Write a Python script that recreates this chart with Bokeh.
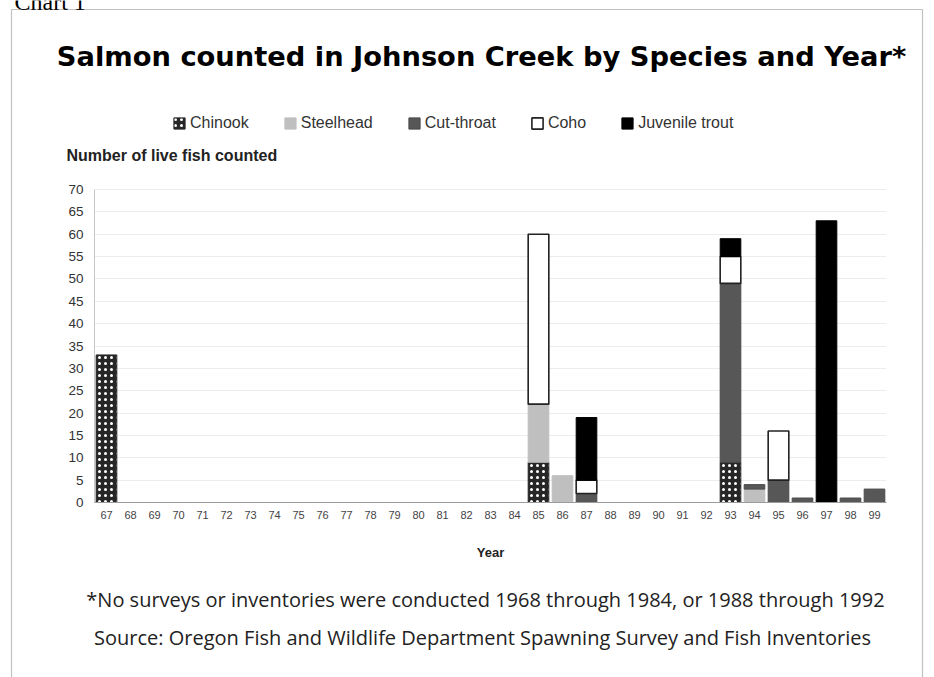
from bokeh.plotting import figure
from bokeh.models import (ColumnDataSource, Range1d, Legend, LegendItem, Label, BoxAnnotation,
                          FixedTicker, CDSView, IndexFilter)
from bokeh.transform import stack
from bokeh.embed import file_html
from bokeh.resources import INLINE

# ---------------- data ----------------
years = [67, 68, 69, 70, 71, 72, 73, 74, 75, 76, 77,
         78, 79, 80, 81, 82, 83, 84, 85, 86, 87, 88,
         89, 90, 91, 92, 93, 94, 95, 96, 97, 98, 99]
#            67 68 69 70 71 72 73 74 75 76 77 78 79 80 81 82 83 84 85  86 87 88 89 90 91 92 93  94 95  96 97  98 99
chinook   = [33, 0, 0, 0, 0, 0, 0, 0, 0, 0, 0, 0, 0, 0, 0, 0, 0, 0, 9,  0, 0, 0, 0, 0, 0, 0, 9,  0, 0,  0, 0,  0, 0]
steelhead = [0,  0, 0, 0, 0, 0, 0, 0, 0, 0, 0, 0, 0, 0, 0, 0, 0, 0, 13, 6, 0, 0, 0, 0, 0, 0, 0,  3, 0,  0, 0,  0, 0]
cutthroat = [0,  0, 0, 0, 0, 0, 0, 0, 0, 0, 0, 0, 0, 0, 0, 0, 0, 0, 0,  0, 2, 0, 0, 0, 0, 0, 40, 1, 5,  1, 0,  1, 3]
coho      = [0,  0, 0, 0, 0, 0, 0, 0, 0, 0, 0, 0, 0, 0, 0, 0, 0, 0, 38, 0, 3, 0, 0, 0, 0, 0, 6,  0, 11, 0, 0,  0, 0]
juvenile  = [0,  0, 0, 0, 0, 0, 0, 0, 0, 0, 0, 0, 0, 0, 0, 0, 0, 0, 0,  0, 14, 0, 0, 0, 0, 0, 4, 0, 0,  0, 63, 0, 0]

species = ["Chinook", "Steelhead", "Cut-throat", "Coho", "Juvenile trout"]
y_ticks = [0, 5, 10, 15, 20, 25, 30, 35, 40, 45, 50, 55, 60, 65, 70]

chart_label = "Chart 1"
title_text = "Salmon counted in Johnson Creek by Species and Year*"
y_title = "Number of live fish counted"
x_title = "Year"
note_text = "*No surveys or inventories were conducted 1968 through 1984, or 1988 through 1992"
source_text = "Source: Oregon Fish and Wildlife Department Spawning Survey and Fish Inventories"

# ---------------- layout (pixels, canvas from top-left) ----------------
W, H = 934, 677
PL, PR, PT, PB = 94, 886, 189, 502      # plot area: left, right, top (y=70), bottom (y=0)
x_lo, x_hi = years[0] - 0.5, years[-1] + 0.5
y_lo, y_hi = 0, 70
sx = (PR - PL) / (x_hi - x_lo)
sy = (PB - PT) / (y_hi - y_lo)
x_range = Range1d(x_lo - PL / sx, x_hi + (W - PR) / sx)
y_range = Range1d(y_lo - (H - PB) / sy, y_hi + PT / sy)

FONT = "Liberation Sans"
src = ColumnDataSource(dict(year=years, Chinook=chinook, Steelhead=steelhead,
                            Cutthroat=cutthroat, Coho=coho, Juvenile=juvenile))
fields = ["Chinook", "Steelhead", "Cutthroat", "Coho", "Juvenile"]
series = [chinook, steelhead, cutthroat, coho, juvenile]

p = figure(x_range=x_range, y_range=y_range, width=W, height=H, output_backend="svg",
           toolbar_location=None, title=None, min_border=0,
           x_axis_location="below", y_axis_location="left")
p.outline_line_color = None
p.background_fill_color = "white"
p.border_fill_color = "white"

styles = [
    dict(fill_color="#262626", line_color="#262626", hatch_pattern="dot", hatch_color="white",
         hatch_scale=6, hatch_weight=1.2),
    dict(fill_color="#bfbfbf", line_color="#bfbfbf"),
    dict(fill_color="#575757", line_color="#4a4a4a"),
    dict(fill_color="white", line_color="#222222", line_width=1.6),
    dict(fill_color="black", line_color="black"),
]

renderers = []
for i, f in enumerate(fields):
    nz = [k for k, v in enumerate(series[i]) if v > 0]
    r = p.vbar(x="year", width=0.86, bottom=stack(*fields[:i]), top=stack(*fields[:i + 1]),
               source=src, view=CDSView(filter=IndexFilter(nz)), **styles[i])
    renderers.append(r)

# axes drawn at fixed data locations inside the full-canvas frame
p.yaxis.fixed_location = x_lo
p.yaxis.bounds = (y_lo, y_hi)
p.yaxis.ticker = FixedTicker(ticks=y_ticks)
p.yaxis.axis_line_color = "#c8c8c8"
p.yaxis.major_tick_line_color = None
p.yaxis.minor_tick_line_color = None
p.yaxis.major_tick_out = 0
p.yaxis.minor_tick_out = 0
p.yaxis.major_label_text_font = FONT
p.yaxis.major_label_text_font_size = "13.5px"
p.yaxis.major_label_text_color = "#333333"
p.yaxis.major_label_standoff = 11

p.xaxis.fixed_location = y_lo
p.xaxis.bounds = (x_lo, x_hi)
p.xaxis.ticker = FixedTicker(ticks=years)
p.xaxis.axis_line_color = "#9a9a9a"
p.xaxis.major_tick_line_color = None
p.xaxis.minor_tick_line_color = None
p.xaxis.major_tick_out = 0
p.xaxis.minor_tick_out = 0
p.xaxis.major_label_text_font = FONT
p.xaxis.major_label_text_font_size = "11px"
p.xaxis.major_label_text_color = "#444444"
p.xaxis.major_label_standoff = 8

p.xgrid.grid_line_color = None
p.ygrid.ticker = FixedTicker(ticks=y_ticks)
p.ygrid.grid_line_color = "#ececec"
p.ygrid.bounds = (y_lo, y_hi)
p.ygrid.cross_bounds = (x_lo, x_hi)

# legend (location = bottom-left corner, measured from the canvas bottom-left)
LEG_Y, LEG_H = 124, 16
legend = Legend(items=[LegendItem(label=s, renderers=[r]) for s, r in zip(species, renderers)],
                location=(172, H - (LEG_Y + LEG_H / 2)), orientation="horizontal",
                border_line_color=None, background_fill_alpha=0, padding=0, margin=0,
                spacing=34, glyph_width=14, glyph_height=14, label_width=10, label_height=LEG_H,
                label_standoff=4, label_text_font=FONT, label_text_font_size="16px",
                label_text_color="#333333")
p.add_layout(legend)

def label(text, x, y, size, font=FONT, bold=False, align="center", color="#222222",
          baseline="middle"):
    # x, y: canvas pixels from top-left; converted to frame-relative screen units
    p.add_layout(Label(x=x, y=H - y, x_units="screen", y_units="screen", text=text,
                       text_font=font, text_font_style="bold" if bold else "normal",
                       text_font_size=size, text_align=align, text_baseline=baseline,
                       text_color=color))

# page caption above the frame: only its lower part lies inside the picture, as in the source
label(chart_label, 14, 1, "24px", font="Liberation Serif", align="left", color="black")
label(title_text, 481, 56, "27.3px", font="DejaVu Sans", bold=True, color="black")
label(y_title, 66, 155, "16px", bold=True, align="left")
label(x_title, (PL + PR) / 2, 552, "13px", bold=True)
label(note_text, 485, 599, "20px", font="Open Sans")
label(source_text, 482, 637, "20px", font="Open Sans")

# outer frame line (left, top, right; open at the bottom of the page)
p.add_layout(BoxAnnotation(left=11, right=922, top=H - 9, bottom=-40,
                           left_units="screen", right_units="screen",
                           top_units="screen", bottom_units="screen",
                           fill_alpha=0, line_color="#333333", line_width=1.2))

open("out.html", "w").write(file_html(p, INLINE))
